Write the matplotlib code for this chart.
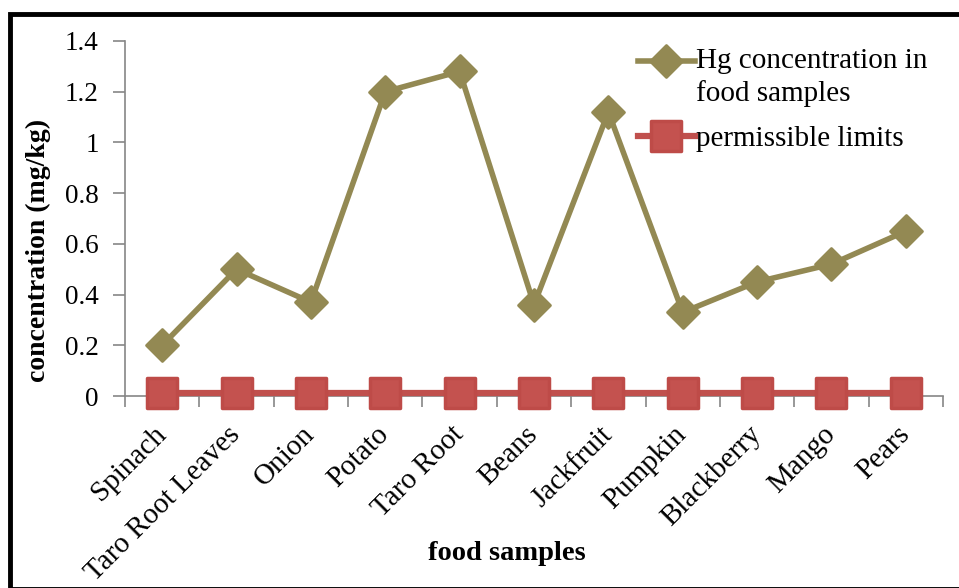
import numpy as np
import matplotlib
matplotlib.use("Agg")
import matplotlib.pyplot as plt
from matplotlib.markers import MarkerStyle
from matplotlib.patches import Rectangle

plt.rcParams['font.family'] = ['Liberation Serif', 'DejaVu Serif']

# --- data ---
foods = ['Spinach', 'Taro Root Leaves', 'Onion', 'Potato', 'Taro Root', 'Beans',
         'Jackfruit', 'Pumpkin', 'Blackberry', 'Mango', 'Pears']
hg_conc = [0.20, 0.50, 0.37, 1.20, 1.28, 0.36, 1.12, 0.33, 0.45, 0.52, 0.65]
limits = [0.01] * len(foods)
y_ticks = [0, 0.2, 0.4, 0.6, 0.8, 1, 1.2, 1.4]
y_tick_labels = ['0', '0.2', '0.4', '0.6', '0.8', '1', '1.2', '1.4']

OLIVE = '#938953'
RED = '#C0504D'
AXIS_GREY = '#868686'

fig = plt.figure(figsize=(9.59, 5.88), dpi=100)
ax = fig.add_axes([125 / 959, 1 - 396 / 588, 818 / 959, 355 / 588])

x = np.arange(len(foods))
ax.plot(x, hg_conc, color=OLIVE, lw=4,
        marker=MarkerStyle('D', joinstyle='round'), markersize=16,
        markerfacecolor=OLIVE, markeredgecolor=OLIVE, markeredgewidth=2,
        label='Hg concentration in\nfood samples', zorder=3)
ax.plot(x, limits, color=RED, lw=4.5,
        marker=MarkerStyle('s', joinstyle='round'), markersize=21,
        markerfacecolor='#C4524F', markeredgecolor='#BE4B48', markeredgewidth=2.5,
        label='permissible limits', zorder=4, clip_on=False)

ax.set_xlim(-0.5, len(foods) - 0.5)
ax.set_ylim(0, 1.4)

# y axis
ax.set_yticks(y_ticks)
ax.set_yticklabels(y_tick_labels, fontsize=19.5)
ax.tick_params(axis='y', direction='out', length=9, width=1.2, color=AXIS_GREY, pad=10)

# x axis: labels at centres, tick marks at category boundaries
ax.set_xticks(x)
ax.set_xticklabels(foods, fontsize=21, rotation=45, ha='right', va='center',
                   rotation_mode='anchor')
ax.set_xticks(np.arange(-0.5, len(foods), 1), minor=True)
ax.tick_params(axis='x', which='major', length=0, pad=25)
ax.tick_params(axis='x', which='minor', direction='out', length=8, width=1.2,
               color=AXIS_GREY)

for side in ['top', 'right']:
    ax.spines[side].set_visible(False)
for side in ['left', 'bottom']:
    ax.spines[side].set_color(AXIS_GREY)
    ax.spines[side].set_linewidth(1.2)

ax.set_ylabel('concentration (mg/kg)', fontsize=20, fontweight='bold')
ax.yaxis.set_label_coords(-(125 - 51) / 818, (396 - 250) / 355)
fig.text(507 / 959, 1 - 553 / 588, 'food samples', fontsize=20.5, fontweight='bold',
         ha='center', va='center')

leg = ax.legend(loc='upper left', bbox_to_anchor=(638 / 959, 1 - 48 / 588),
                bbox_transform=fig.transFigure, frameon=False, fontsize=21,
                handlelength=1.95, handletextpad=0.05, labelspacing=0.62,
                borderpad=0, borderaxespad=0)
for t in leg.get_texts():
    t.set_linespacing(1.3)
# put the olive handle level with the first line of its two-line label
h0 = leg.legend_handles[0]
h0.set_ydata(np.asarray(h0.get_ydata()) + 12)

# outer frame
fig.patches.append(Rectangle((10 / 959, 1 - 589 / 588), 1.02, (589 - 14) / 588,
                             transform=fig.transFigure, fill=False,
                             edgecolor='black', lw=3.5, zorder=10))

fig.savefig('out.png', dpi=100)
